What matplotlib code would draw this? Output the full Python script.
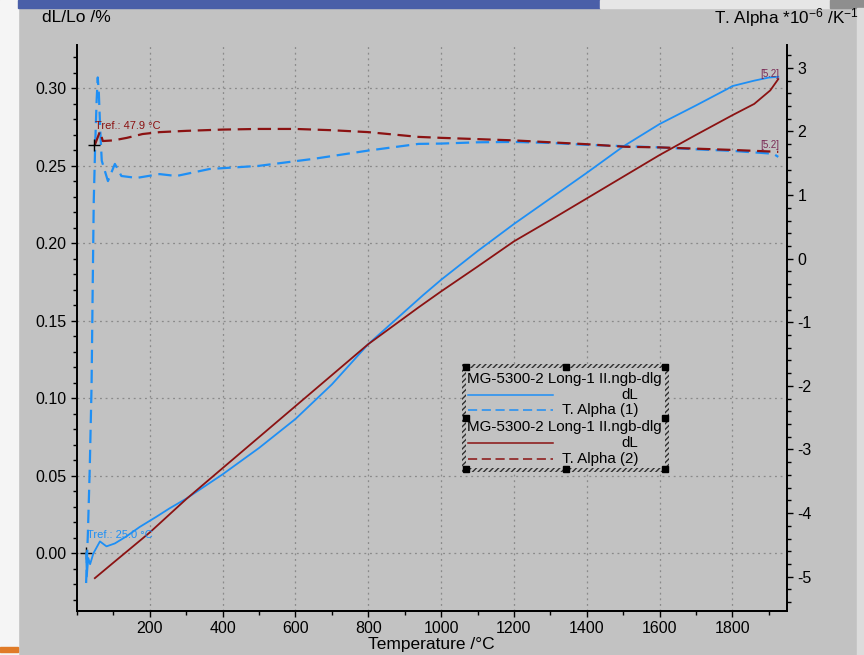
import matplotlib
matplotlib.use("Agg")
import matplotlib.pyplot as plt
from matplotlib.patches import Rectangle
from matplotlib.lines import Line2D
from matplotlib.ticker import MultipleLocator

plt.rcParams["font.family"] = ["Liberation Sans", "DejaVu Sans"]
plt.rcParams["mathtext.fontset"] = "custom"
plt.rcParams["mathtext.rm"] = "Liberation Sans"
plt.rcParams["mathtext.it"] = "Liberation Sans:italic"
plt.rcParams["axes.unicode_minus"] = False

# run 1 (blue) dL/Lo in %
t_dl1 = [25, 27, 31, 36, 45, 63, 81, 104, 136, 172, 218, 254, 300, 400, 500, 600, 700, 800,
         900, 950, 1000, 1100, 1200, 1300, 1400, 1500, 1600, 1700, 1785, 1800, 1860, 1900, 1926]
dl1 = [0.0, -0.015, -0.003, -0.007, 0.0, 0.0077, 0.0045, 0.0064, 0.011, 0.017, 0.0236, 0.029,
       0.0353, 0.051, 0.068, 0.0867, 0.109, 0.135, 0.156, 0.1665, 0.1765, 0.195, 0.2125, 0.229,
       0.2455, 0.2625, 0.277, 0.289, 0.2995, 0.3015, 0.305, 0.307, 0.3075]

# run 1 (blue) T. Alpha
t_a1 = [25, 30, 35, 40, 43, 46, 50, 54, 57, 60, 64, 68, 85, 104, 122, 164, 227, 273, 364, 500,
        650, 800, 938, 1000, 1100, 1200, 1300, 1400, 1500, 1600, 1700, 1800, 1913, 1926]
a1 = [-5.1, -4.3, -3.3, -2.0, -0.5, 0.9, 1.8, 2.5, 2.85, 2.6, 2.0, 1.54, 1.22, 1.49, 1.30, 1.27,
      1.33, 1.30, 1.41, 1.46, 1.57, 1.70, 1.805, 1.81, 1.83, 1.836, 1.82, 1.79, 1.77, 1.75,
      1.72, 1.695, 1.65, 1.60]

# run 2 (red) dL/Lo in %
t_dl2 = [49, 100, 200, 300, 400, 500, 600, 700, 800, 938, 1000, 1100, 1200, 1300, 1400, 1500,
         1600, 1700, 1800, 1860, 1904, 1926]
dl2 = [-0.016, -0.006, 0.0135, 0.035, 0.055, 0.075, 0.095, 0.115, 0.135, 0.1587, 0.169, 0.185,
       0.2013, 0.215, 0.229, 0.243, 0.257, 0.270, 0.2827, 0.290, 0.2987, 0.306]

# run 2 (red) T. Alpha
t_a2 = [49, 63, 71, 100, 137, 180, 227, 300, 400, 500, 600, 700, 800, 938, 1000, 1100, 1200,
        1300, 1400, 1505, 1600, 1700, 1800, 1926]
a2 = [1.79, 2.0, 1.85, 1.86, 1.90, 1.96, 1.99, 2.01, 2.03, 2.04, 2.04, 2.02, 1.99, 1.915, 1.90,
      1.88, 1.86, 1.83, 1.80, 1.76, 1.75, 1.73, 1.71, 1.68]

blue = "#1e8ff5"
red = "#8b1212"
bg = "#c2c2c2"

W, H = 864, 655
fig = plt.figure(figsize=(8.64, 6.55), dpi=100, facecolor=bg)


def fx(px):
    return px / W


def fy(py):
    return 1 - py / H


# screenshot frame bits
fig.add_artist(Rectangle((0, 0), fx(18), 1, transform=fig.transFigure, color="#f5f5f5", zorder=0))
fig.add_artist(Rectangle((0, fy(652)), fx(18), 5 / H, transform=fig.transFigure, color="#e07b28", zorder=1))
fig.add_artist(Rectangle((fx(18), fy(8)), fx(600) - fx(18), 8 / H, transform=fig.transFigure, color="#4a5fa8", zorder=1))
fig.add_artist(Rectangle((fx(600), fy(8)), fx(830) - fx(600), 8 / H, transform=fig.transFigure, color="#e6e6e6", zorder=1))
fig.add_artist(Rectangle((fx(830), fy(8)), fx(34), 8 / H, transform=fig.transFigure, color="#8e8e8e", zorder=1))
fig.add_artist(Rectangle((fx(857), 0), fx(7), fy(8), transform=fig.transFigure, color="#dcdcdc", zorder=1))

ax = fig.add_axes([fx(77), fy(611), fx(787) - fx(77), (611 - 45) / H])
ax.set_facecolor(bg)
ax2 = ax.twinx()

ax.set_xlim(0, 1950)
ax.set_ylim(-0.0372, 0.328)
ax2.set_ylim(-5.54, 3.36)

ax.plot(t_dl1, dl1, color=blue, lw=1.3, zorder=3)
ax.plot(t_dl2, dl2, color=red, lw=1.3, zorder=3)
ax2.plot(t_a1, a1, color=blue, lw=1.6, dashes=(6, 3))
ax2.plot(t_a2, a2, color=red, lw=1.6, dashes=(6, 3))

# reference points
ax.plot([25], [0.0], marker="+", color="black", ms=8, mew=1)
ax2.plot([48], [1.79], marker="+", color="black", ms=8, mew=1)
ax.text(27, 0.0116, "Tref.: 25.0 °C", color=blue, fontsize=8, va="center")
ax2.text(50, 2.09, "Tref.: 47.9 °C", color=red, fontsize=8, va="center")
ax2.text(1930, 2.9, "[5.2]", color="#7a2a55", fontsize=7, ha="right", va="center")
ax2.text(1930, 1.78, "[5.2]", color="#7a2a55", fontsize=7, ha="right", va="center")

for a in (ax, ax2):
    a.spines["top"].set_visible(False)
    for s in ("left", "right", "bottom"):
        a.spines[s].set_linewidth(1.3)

ax.xaxis.set_minor_locator(MultipleLocator(100))
ax.set_xticks(range(200, 1801, 200))
ax.yaxis.set_minor_locator(MultipleLocator(0.01))
ax2.yaxis.set_minor_locator(MultipleLocator(0.2))
ax.set_yticks([0.0, 0.05, 0.10, 0.15, 0.20, 0.25, 0.30])
ax.set_yticklabels(["0.00", "0.05", "0.10", "0.15", "0.20", "0.25", "0.30"])
ax2.set_yticks(range(-5, 4))

ax.tick_params(axis="both", which="major", labelsize=11.5, length=4, width=1, direction="out")
ax.tick_params(axis="both", which="minor", length=3, width=1, direction="out")
ax2.tick_params(axis="y", which="major", labelsize=11.5, length=4, width=1, direction="out")
ax2.tick_params(axis="y", which="minor", length=3, width=1, direction="out")

ax.grid(True, which="major", color="#8a8a8a", linestyle=(0, (1.5, 3)), lw=0.9)
ax.set_axisbelow(True)

fig.text(fx(42), fy(18), "dL/Lo /%", fontsize=12.5, va="center", ha="left")
fig.text(fx(859), fy(18), r"T. Alpha *10$^{-6}$ /K$^{-1}$", fontsize=12.3, va="center", ha="right")
fig.text(fx(431), fy(644), "Temperature /°C", fontsize=12.5, va="center", ha="center")

# legend box with hatched frame
lx0, lx1, ly0, ly1 = 462, 669, 364, 472
fig.add_artist(Rectangle((fx(lx0), fy(ly1)), fx(lx1) - fx(lx0), (ly1 - ly0) / H,
                         transform=fig.transFigure, facecolor=bg, edgecolor="#303030",
                         hatch="//////", lw=0, zorder=5))
fig.add_artist(Rectangle((fx(lx0 + 4), fy(ly1 - 4)), fx(lx1 - 4) - fx(lx0 + 4), (ly1 - ly0 - 8) / H,
                         transform=fig.transFigure, facecolor=bg, edgecolor="none", zorder=6))
for hx in (lx0 + 4, (lx0 + lx1) / 2, lx1 - 4):
    for hy in (ly0 + 3, ly1 - 3):
        fig.add_artist(Rectangle((fx(hx - 3), fy(hy + 3)), 6 / W, 6 / H, transform=fig.transFigure,
                                 color="black", zorder=7))
for hx in (lx0 + 4, lx1 - 4):
    hy = (ly0 + ly1) / 2
    fig.add_artist(Rectangle((fx(hx - 3), fy(hy + 3)), 6 / W, 6 / H, transform=fig.transFigure,
                             color="black", zorder=7))

rows = [("MG-5300-2 Long-1 II.ngb-dlg", None, None, 379),
        ("dL", blue, "-", 395),
        ("T. Alpha (1)", blue, "--", 410),
        ("MG-5300-2 Long-1 II.ngb-dlg", None, None, 427),
        ("dL", red, "-", 443),
        ("T. Alpha (2)", red, "--", 459)]
for label, col, ls, py in rows:
    if col is None:
        fig.text(fx(467), fy(py), label, fontsize=10.9, va="center", ha="left", zorder=8)
    else:
        ln = Line2D([fx(468), fx(553)], [fy(py), fy(py)], transform=fig.transFigure, color=col,
                    lw=1.1, zorder=8)
        if ls == "--":
            ln.set_dashes((6, 3))
        fig.add_artist(ln)
        fig.text(fx(638), fy(py), label, fontsize=10.9, va="center", ha="right", zorder=8)

plt.savefig("out.png", dpi=100, facecolor=bg)
